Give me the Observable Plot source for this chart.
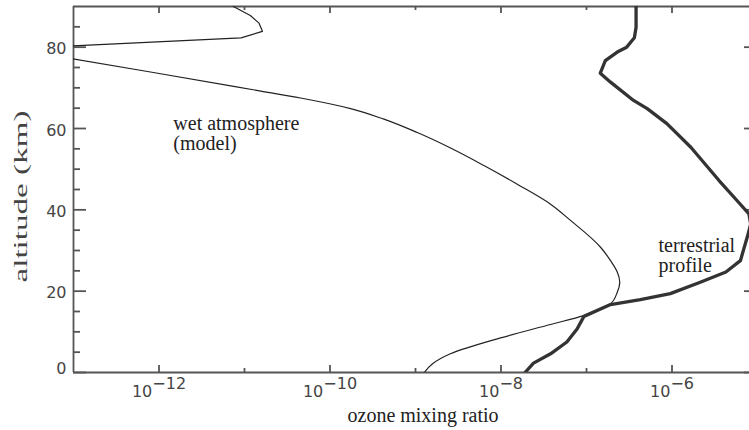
<!DOCTYPE html>
<html>
<head>
<meta charset="utf-8">
<script src="https://cdn.jsdelivr.net/npm/d3@7"></script>
<script src="https://cdn.jsdelivr.net/npm/@observablehq/plot@0.6"></script>
<style>
  html, body { margin: 0; padding: 0; background: #fff; overflow: hidden; }
</style>
</head>
<body>
<div id="chart"></div>
<script>
// Ozone mixing ratio profiles versus altitude (km)

// Wet atmosphere (model)
const modelAlt = [0, 2.1, 4.6, 8.5, 11.8, 14.0, 16.9, 19.75, 22.2, 24.7, 27.5, 30.8, 37.4, 41.4,
  46.3, 50.9, 55.2, 59.0, 62.3, 64.9, 67.5, 69.2, 73.9, 78.0, 79.2, 80.0, 82.3,
  83.9, 85.9, 87.8, 90.0];
const modelRatio = [1.27e-9, 1.57e-9, 2.56e-9, 9.86e-9, 3.79e-8, 9.29e-8, 1.91e-7, 2.29e-7,
  2.45e-7, 2.29e-7, 1.91e-7, 1.46e-7, 6.5e-8, 3.8e-8, 1.55e-8, 6.31e-9, 2.57e-9,
  1.05e-9, 4.27e-10, 1.74e-10, 4.52e-11, 1.55e-11, 7.94e-13, 5.6e-14, 3.2e-15, 5.0e-14,
  9.12e-12, 1.62e-11, 1.48e-11, 1.17e-11, 7.41e-12];

// Terrestrial profile
const terrAlt = [0, 2.3, 4.6, 7.5, 10.7, 13.8, 16.7, 17.9, 19.4, 22.2, 24.7, 27.5, 33.3, 36.5,
  39.0, 42.3, 47.2, 55.4, 61.2, 64.9, 66.9, 71.4, 73.6, 76.7, 78.8, 80.0, 82.3, 84.9, 90.0];
const terrRatio = [1.91e-8, 2.4e-8, 3.8e-8, 5.89e-8, 7.76e-8, 9.33e-8, 1.91e-7, 4.27e-7,
  9.55e-7, 2.14e-6, 4.27e-6, 6.31e-6, 7.59e-6, 8.32e-6, 7.94e-6, 5.75e-6, 3.55e-6, 1.66e-6,
  8.71e-7, 5.13e-7, 3.55e-7, 1.91e-7, 1.45e-7, 1.66e-7, 2.29e-7, 2.95e-7, 3.63e-7, 3.8e-7,
  3.8e-7];

// Axes
const xMajorTicks = [1e-12, 1e-10, 1e-8, 1e-6];
const xMinorTicks = [1e-11, 1e-9, 1e-7];
const yMajorTicks = [20, 40, 60, 80];
const yZeroTick = [0];
const yMinorTicks = [5, 10, 15, 25, 30, 35, 45, 50, 55, 65, 70, 75, 85];
const xLabel = "ozone mixing ratio";
const yLabel = "altitude (km)";

// Curve annotations
const noteText = ["wet atmosphere\n(model)", "terrestrial\nprofile"];
const noteRatio = [1.47e-12, 6.95e-7];
const noteAlt = [63.2, 33.1];

// The model profile is smooth below 78 km, with a sharp fold near 80 km
// drawn as straight segments.
const model = modelAlt.map((alt, i) => ({alt, ratio: modelRatio[i]}));
const modelLower = model.filter(d => d.alt <= 78);
const modelUpper = model.filter(d => d.alt >= 78);
const terrestrial = terrAlt.map((alt, i) => ({alt, ratio: terrRatio[i]}));
const notes = noteText.map((text, i) => ({text, ratio: noteRatio[i], alt: noteAlt[i]}));

// Plot geometry: the right edge of the frame (10^-5) falls just past the page,
// so the visible x range ends a little short of it.
const W = 749, H = 430;
const M = {left: 73, right: 0, top: 6, bottom: 58};
const pxPerDecade = 85.5;
const xDomain = [1e-13, 1e-13 * 10 ** ((W - M.left - M.right) / pxPerDecade)];
const yDomain = [0, 90];
const pxPerKm = (H - M.top - M.bottom) / (yDomain[1] - yDomain[0]);

// Inward tick lengths (px), converted to data units for the rule marks
const tickLenX = {major: 7, minor: 4};
const tickLenY = {major: 13, minor: 7};
const tickLenRight = 5;   // visible part of the right-hand ticks
const kmFor = px => px / pxPerKm;
const factorFor = px => 10 ** (px / pxPerDecade);

const axisGray = "#555";
const textGray = "#444";
const serif = "Liberation Serif, Times New Roman, serif";
const tickStyle = {stroke: axisGray, strokeWidth: 1.8};
const spineStyle = {stroke: axisGray, strokeWidth: 1.8};

const xTickRules = (ticks, len) => [
  Plot.ruleX(ticks, {x: d => d, y1: yDomain[0], y2: yDomain[0] + kmFor(len), ...tickStyle}),
  Plot.ruleX(ticks, {x: d => d, y1: yDomain[1] - kmFor(len), y2: yDomain[1], ...tickStyle})
];
const yTickRules = (ticks, len) => [
  Plot.ruleY(ticks, {y: d => d, x1: xDomain[0], x2: xDomain[0] * factorFor(len), ...tickStyle})
];

const chart = Plot.plot({
  width: W,
  height: H,
  marginLeft: M.left,
  marginRight: M.right,
  marginTop: M.top,
  marginBottom: M.bottom,
  style: {fontFamily: "DejaVu Sans", fontSize: "16px", background: "#fff", color: textGray},
  x: {type: "log", domain: xDomain, label: null},
  y: {domain: yDomain, label: null},
  marks: [
    // left, bottom and top spines
    Plot.ruleX([xDomain[0]], {...spineStyle}),
    Plot.ruleY([yDomain[0], yDomain[1]], {...spineStyle}),
    // inward ticks
    ...xTickRules(xMajorTicks, tickLenX.major),
    ...xTickRules(xMinorTicks, tickLenX.minor),
    ...yTickRules([...yZeroTick, ...yMajorTicks], tickLenY.major),
    ...yTickRules(yMinorTicks, tickLenY.minor),
    Plot.ruleY([...yZeroTick, ...yMajorTicks], {y: d => d, x1: xDomain[1] / factorFor(tickLenRight), x2: xDomain[1], ...tickStyle}),
    // tick labels
    Plot.axisX({anchor: "bottom", ticks: xMajorTicks, tickSize: 0, tickPadding: 13.6, fontSize: 16, fill: textGray,
      tickFormat: d => String(Math.round(Math.log10(d))).replace("-", "\u2212")}),
    Plot.axisY({anchor: "left", ticks: yMajorTicks, tickSize: 0, tickPadding: 7, dy: 2, fontSize: 16, fill: textGray, tickFormat: d => d}),
    Plot.axisY({anchor: "left", ticks: yZeroTick, tickSize: 0, tickPadding: 7, dy: -3.6, fontSize: 16, fill: textGray, tickFormat: d => d}),
    // profiles
    Plot.line(modelLower, {x: "ratio", y: "alt", stroke: "#222", strokeWidth: 1.2, curve: "monotone-y", clip: true}),
    Plot.line(modelUpper, {x: "ratio", y: "alt", stroke: "#222", strokeWidth: 1.2, curve: "linear", clip: true}),
    Plot.line(terrestrial, {x: "ratio", y: "alt", stroke: "#333", strokeWidth: 3.3, curve: "linear", strokeLinejoin: "round", clip: true}),
    // annotations
    Plot.text(notes, {x: "ratio", y: "alt", text: "text", textAnchor: "start", lineAnchor: "top",
      lineHeight: 1.0, fontSize: 20, fontFamily: serif, fill: "#222"}),
    // axis titles
    Plot.text([xLabel], {frameAnchor: "bottom", textAnchor: "start", lineAnchor: "top", dx: 347 - (W + M.left) / 2, dy: 34.8,
      fontSize: 20, fontFamily: serif, fill: "#222"}),
    Plot.text([yLabel], {frameAnchor: "left", textAnchor: "middle", lineAnchor: "middle", rotate: -90,
      dx: -52.4, dy: 7, fontSize: 18, fontFamily: serif, fill: "#444"})
  ]
});

document.getElementById("chart").appendChild(chart);

// Power-of-ten tick labels: base "10" with a raised exponent
d3.select(chart).selectAll('g[aria-label="x-axis tick label"] text').each(function () {
  const t = d3.select(this);
  const exp = t.text();
  if (!exp) return;
  t.text("");
  t.append("tspan").text("10");
  t.append("tspan").attr("dy", "-0.5em").text(exp);
});

// Stretch the rotated altitude title along its baseline
d3.select(chart).selectAll("text")
  .filter(function () { return this.textContent === yLabel; })
  .attr("textLength", 172)
  .attr("lengthAdjust", "spacingAndGlyphs");
</script>
</body>
</html>
